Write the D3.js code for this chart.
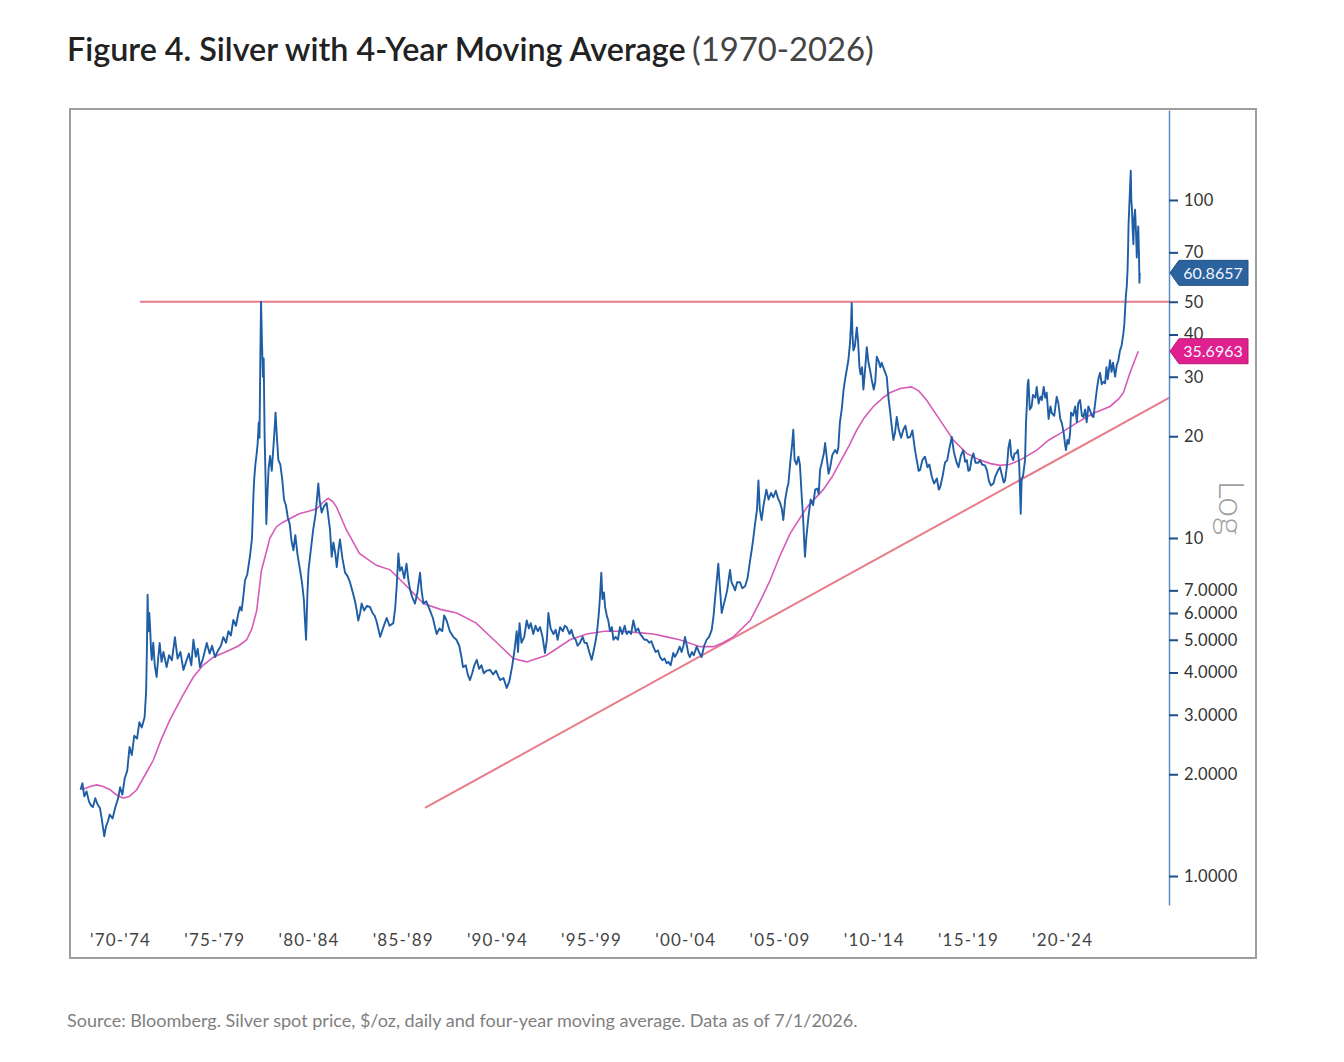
<!DOCTYPE html>
<html>
<head>
<meta charset="utf-8">
<script src="https://cdnjs.cloudflare.com/ajax/libs/d3/7.8.5/d3.min.js"></script>
<style>
  body { margin: 0; background: #fff; }
  text { font-family: Lato, 'Open Sans', sans-serif; }
</style>
</head>
<body>
<div class="svg-container"></div>
<script>
// Silver spot price, $/oz (decimal year, price)
var price1970s = [
	[1970.40, 1.80], [1970.50, 1.88], [1970.60, 1.72], [1970.72, 1.78], [1970.85, 1.66], [1970.95, 1.62],
	[1971.06, 1.60], [1971.18, 1.70], [1971.30, 1.63], [1971.43, 1.59], [1971.52, 1.48], [1971.60, 1.38],
	[1971.66, 1.31], [1971.75, 1.40], [1971.85, 1.45], [1971.95, 1.52], [1972.10, 1.48], [1972.25, 1.60],
	[1972.40, 1.70], [1972.50, 1.83], [1972.62, 1.74], [1972.75, 1.95], [1972.88, 2.05], [1973.00, 2.41],
	[1973.12, 2.28], [1973.25, 2.60], [1973.40, 2.55], [1973.52, 2.85], [1973.65, 2.75], [1973.80, 2.95],
	[1973.88, 3.50], [1973.92, 4.60], [1973.96, 6.80], [1974.00, 5.30], [1974.05, 6.00], [1974.09, 5.46],
	[1974.14, 4.70], [1974.18, 4.36], [1974.26, 4.90], [1974.34, 4.20], [1974.44, 3.88], [1974.52, 4.40],
	[1974.60, 4.89], [1974.70, 4.30], [1974.80, 4.60], [1974.97, 4.15], [1975.10, 4.50], [1975.25, 4.35],
	[1975.41, 5.09], [1975.55, 4.40], [1975.70, 4.60], [1975.86, 4.07], [1976.00, 4.30], [1976.15, 4.55],
	[1976.28, 4.20], [1976.39, 5.00], [1976.52, 4.45], [1976.62, 4.70], [1976.74, 4.15], [1976.90, 4.40],
	[1977.10, 4.89], [1977.25, 4.55], [1977.38, 4.80], [1977.54, 4.44], [1977.70, 4.65], [1977.85, 4.80],
	[1977.98, 5.09], [1978.12, 4.90], [1978.25, 5.30], [1978.38, 5.15], [1978.51, 5.72], [1978.65, 5.50],
	[1978.78, 6.00], [1978.86, 6.25], [1978.95, 6.10], [1979.05, 6.80], [1979.13, 7.50], [1979.25, 7.80],
	[1979.40, 8.90], [1979.50, 10.0], [1979.58, 13.5], [1979.62, 15.0], [1979.68, 16.5], [1979.75, 17.8],
	[1979.80, 19.0], [1979.86, 22.0], [1979.90, 19.8], [1979.94, 33.5], [1979.98, 50.0]
];

var price1980s = [
	[1980.03, 38.0], [1980.08, 30.0], [1980.12, 34.0], [1980.17, 20.0], [1980.22, 15.0], [1980.26, 11.0],
	[1980.32, 13.5], [1980.38, 16.0], [1980.46, 17.5], [1980.55, 15.8], [1980.62, 18.0], [1980.70, 21.0],
	[1980.75, 23.5], [1980.82, 20.0], [1980.90, 17.0], [1981.00, 16.5], [1981.10, 15.0], [1981.20, 13.0],
	[1981.30, 12.5], [1981.40, 11.5], [1981.50, 11.0], [1981.60, 9.8], [1981.70, 9.2], [1981.80, 10.2],
	[1981.92, 8.9], [1982.05, 8.05], [1982.15, 7.4], [1982.25, 6.6], [1982.32, 5.6], [1982.37, 5.0],
	[1982.44, 6.8], [1982.50, 8.05], [1982.62, 9.2], [1982.75, 10.6], [1982.88, 11.8], [1983.02, 14.5],
	[1983.10, 12.8], [1983.20, 11.9], [1983.32, 12.4], [1983.46, 12.7], [1983.55, 11.6], [1983.64, 10.6],
	[1983.73, 8.8], [1983.82, 9.7], [1983.92, 9.0], [1984.00, 8.2], [1984.10, 9.3], [1984.17, 9.9],
	[1984.30, 8.7], [1984.44, 7.9], [1984.58, 7.7], [1984.70, 7.4], [1984.85, 6.9], [1984.97, 6.5],
	[1985.06, 6.1], [1985.14, 5.7], [1985.24, 6.0], [1985.32, 6.4], [1985.45, 6.1], [1985.60, 6.3],
	[1985.76, 6.25], [1985.90, 6.0], [1986.00, 5.9], [1986.10, 5.7], [1986.20, 5.4], [1986.30, 5.1],
	[1986.45, 5.4], [1986.55, 5.6], [1986.65, 5.8], [1986.80, 5.5], [1987.00, 5.6], [1987.10, 6.2],
	[1987.18, 7.2], [1987.27, 9.0], [1987.35, 8.0], [1987.45, 8.2], [1987.58, 7.6], [1987.70, 8.4],
	[1987.80, 7.5], [1987.90, 7.0], [1988.00, 6.7], [1988.15, 6.4], [1988.28, 6.9], [1988.42, 7.9],
	[1988.50, 7.0], [1988.60, 6.4], [1988.75, 6.5], [1988.95, 6.1], [1989.10, 5.8], [1989.30, 5.2],
	[1989.45, 5.4], [1989.60, 5.3], [1989.70, 5.9], [1989.83, 5.7]
];

var price1990s = [
	[1990.00, 5.3], [1990.18, 5.1], [1990.35, 5.0], [1990.50, 4.8], [1990.60, 4.5], [1990.70, 4.15],
	[1990.85, 4.2], [1990.95, 3.95], [1991.07, 3.8], [1991.20, 4.0], [1991.30, 4.2], [1991.43, 4.36],
	[1991.55, 4.1], [1991.68, 4.2], [1991.80, 3.98], [1991.95, 4.05], [1992.14, 4.07], [1992.30, 3.95],
	[1992.45, 4.05], [1992.57, 3.9], [1992.67, 3.8], [1992.85, 3.85], [1993.02, 3.6], [1993.15, 3.75],
	[1993.30, 4.15], [1993.42, 4.6], [1993.55, 5.3], [1993.62, 4.6], [1993.70, 5.6], [1993.80, 4.9],
	[1993.95, 5.1], [1994.08, 5.7], [1994.20, 5.4], [1994.30, 5.6], [1994.43, 5.2], [1994.55, 5.5],
	[1994.67, 5.3], [1994.79, 5.45], [1994.92, 5.1], [1995.05, 4.57], [1995.15, 5.0], [1995.23, 6.0],
	[1995.35, 5.4], [1995.50, 5.2], [1995.62, 5.35], [1995.72, 5.0], [1995.85, 5.45], [1996.00, 5.3],
	[1996.10, 5.5], [1996.20, 5.45], [1996.35, 5.2], [1996.45, 5.35], [1996.56, 5.1], [1996.68, 5.0],
	[1996.78, 4.8], [1996.90, 4.89], [1997.05, 5.1], [1997.15, 4.9], [1997.27, 4.89], [1997.40, 4.6],
	[1997.53, 4.36], [1997.62, 4.6], [1997.72, 4.9], [1997.80, 5.2], [1997.90, 5.9], [1997.97, 6.7],
	[1998.04, 7.9], [1998.10, 6.6], [1998.18, 6.9], [1998.24, 6.25], [1998.33, 5.9], [1998.41, 5.7],
	[1998.50, 5.3], [1998.60, 5.45], [1998.68, 5.0], [1998.80, 5.1], [1998.92, 5.0], [1999.03, 5.45],
	[1999.15, 5.2], [1999.28, 5.5], [1999.39, 5.2], [1999.50, 5.3], [1999.62, 5.2], [1999.74, 5.7],
	[1999.87, 5.3]
];

var price2000s = [
	[2000.00, 5.4], [2000.10, 5.2], [2000.22, 5.1], [2000.33, 5.0], [2000.45, 5.0], [2000.58, 4.9],
	[2000.70, 4.95], [2000.80, 4.77], [2000.92, 4.6], [2001.05, 4.65], [2001.16, 4.44], [2001.28, 4.35],
	[2001.40, 4.4], [2001.50, 4.26], [2001.60, 4.3], [2001.72, 4.2], [2001.86, 4.57], [2001.95, 4.45],
	[2002.05, 4.55], [2002.20, 4.77], [2002.30, 4.6], [2002.40, 4.8], [2002.48, 5.1], [2002.58, 4.8],
	[2002.66, 4.55], [2002.74, 4.44], [2002.85, 4.6], [2002.95, 4.5], [2003.10, 4.77], [2003.22, 4.6],
	[2003.36, 4.44], [2003.50, 4.8], [2003.63, 5.0], [2003.76, 5.1], [2003.90, 5.35], [2004.00, 5.9],
	[2004.07, 6.55], [2004.15, 7.3], [2004.25, 8.4], [2004.33, 7.2], [2004.43, 6.0], [2004.52, 6.3],
	[2004.60, 6.55], [2004.72, 7.0], [2004.87, 8.05], [2004.95, 7.4], [2005.05, 7.2], [2005.14, 7.0],
	[2005.25, 7.4], [2005.40, 7.4], [2005.52, 7.1], [2005.67, 7.2], [2005.80, 7.6], [2005.94, 8.6],
	[2006.02, 9.2], [2006.10, 9.9], [2006.20, 11.0], [2006.30, 12.1], [2006.38, 14.8], [2006.45, 12.2],
	[2006.55, 11.3], [2006.65, 12.5], [2006.80, 13.9], [2006.92, 13.0], [2007.05, 13.6], [2007.17, 13.2],
	[2007.30, 13.8], [2007.42, 13.1], [2007.53, 12.7], [2007.62, 12.2], [2007.70, 11.3], [2007.80, 13.0],
	[2007.90, 14.0], [2007.97, 14.5], [2008.08, 17.0], [2008.17, 19.0], [2008.23, 20.9], [2008.30, 17.0],
	[2008.40, 16.5], [2008.50, 17.4], [2008.58, 16.5], [2008.68, 13.2], [2008.75, 11.5], [2008.80, 10.0],
	[2008.85, 8.8], [2008.92, 10.0], [2009.03, 11.5], [2009.15, 13.0], [2009.28, 12.5], [2009.39, 13.9],
	[2009.50, 14.0], [2009.58, 13.5], [2009.65, 15.9], [2009.75, 16.8], [2009.85, 17.8], [2009.92, 19.1]
];

var price2010s = [
	[2010.02, 17.0], [2010.10, 15.5], [2010.19, 16.2], [2010.30, 17.6], [2010.45, 18.2], [2010.55, 17.8],
	[2010.62, 18.5], [2010.70, 21.9], [2010.80, 24.0], [2010.90, 27.5], [2010.98, 29.5], [2011.06, 31.3],
	[2011.15, 33.5], [2011.24, 37.7], [2011.30, 44.0], [2011.33, 49.6], [2011.37, 40.0], [2011.42, 35.9],
	[2011.50, 37.0], [2011.60, 42.0], [2011.67, 38.0], [2011.74, 32.1], [2011.80, 30.5], [2011.88, 32.0],
	[2011.95, 27.5], [2012.05, 32.0], [2012.13, 36.7], [2012.22, 33.0], [2012.30, 31.5], [2012.39, 29.4],
	[2012.50, 27.5], [2012.58, 29.0], [2012.66, 34.4], [2012.75, 33.5], [2012.85, 32.0], [2012.92, 33.0],
	[2013.05, 31.5], [2013.19, 30.0], [2013.28, 26.0], [2013.36, 23.9], [2013.45, 21.5], [2013.54, 19.5],
	[2013.63, 20.5], [2013.72, 22.8], [2013.82, 21.0], [2013.95, 19.8], [2014.07, 20.9], [2014.18, 21.5],
	[2014.30, 19.8], [2014.43, 19.9], [2014.55, 20.8], [2014.69, 18.2], [2014.80, 16.8], [2014.88, 15.8],
	[2014.96, 15.9], [2015.08, 17.0], [2015.22, 17.4], [2015.35, 16.2], [2015.45, 16.5], [2015.58, 15.2],
	[2015.70, 14.5], [2015.85, 15.0], [2015.95, 13.9], [2016.02, 14.1], [2016.15, 15.2], [2016.28, 16.7],
	[2016.40, 17.0], [2016.52, 18.5], [2016.64, 19.9], [2016.75, 18.0], [2016.90, 16.7], [2017.00, 16.2],
	[2017.12, 17.5], [2017.25, 18.2], [2017.35, 16.8], [2017.44, 17.0], [2017.52, 15.8], [2017.60, 15.9],
	[2017.70, 17.2], [2017.79, 17.8], [2017.90, 16.7], [2018.05, 16.7], [2018.14, 17.0], [2018.25, 16.5],
	[2018.40, 16.4], [2018.50, 15.9], [2018.62, 14.7], [2018.72, 14.3], [2018.85, 14.5], [2018.95, 15.2],
	[2019.08, 15.8], [2019.20, 16.2], [2019.32, 15.2], [2019.40, 14.6], [2019.47, 14.8], [2019.58, 16.5],
	[2019.65, 18.5], [2019.73, 19.5], [2019.80, 17.5], [2019.90, 17.0], [2019.97, 17.8]
];

var price2020s = [
	[2020.05, 17.8], [2020.15, 18.2], [2020.22, 16.5], [2020.26, 14.0], [2020.30, 11.8], [2020.35, 15.0],
	[2020.42, 15.2], [2020.53, 17.0], [2020.58, 22.0], [2020.63, 25.0], [2020.67, 28.5], [2020.71, 29.4],
	[2020.78, 24.0], [2020.88, 24.5], [2020.95, 26.5], [2021.08, 26.0], [2021.15, 28.0], [2021.25, 25.0],
	[2021.35, 26.2], [2021.42, 25.6], [2021.52, 28.0], [2021.60, 26.0], [2021.68, 26.9], [2021.78, 22.5],
	[2021.88, 24.5], [2021.95, 23.4], [2022.08, 23.0], [2022.21, 26.2], [2022.30, 25.0], [2022.40, 22.5],
	[2022.48, 21.9], [2022.58, 20.5], [2022.65, 19.0], [2022.70, 18.2], [2022.78, 19.5], [2022.85, 19.0],
	[2022.92, 20.4], [2022.97, 23.5], [2023.08, 23.0], [2023.19, 24.5], [2023.28, 22.0], [2023.35, 25.0],
	[2023.45, 25.6], [2023.55, 23.0], [2023.63, 22.8], [2023.72, 24.0], [2023.80, 22.0], [2023.89, 24.5],
	[2023.98, 23.8], [2024.08, 23.0], [2024.16, 22.8], [2024.25, 25.0], [2024.34, 27.5], [2024.42, 29.5],
	[2024.51, 30.8], [2024.60, 28.5], [2024.70, 29.0], [2024.78, 28.7], [2024.85, 32.0], [2024.92, 29.5],
	[2025.04, 33.6], [2025.12, 31.0], [2025.20, 33.0], [2025.31, 30.0], [2025.40, 32.5], [2025.48, 33.5],
	[2025.57, 35.9], [2025.65, 37.0], [2025.75, 40.3], [2025.80, 43.0], [2025.84, 47.3], [2025.88, 52.0],
	[2025.93, 55.7], [2025.97, 62.0], [2026.00, 72.0], [2026.02, 83.5], [2026.06, 95.0], [2026.10, 108.0],
	[2026.14, 122.0], [2026.17, 100.0], [2026.20, 95.0], [2026.24, 82.0], [2026.28, 74.0], [2026.32, 88.0],
	[2026.37, 93.6], [2026.42, 80.0], [2026.46, 67.6], [2026.50, 76.0], [2026.54, 83.5], [2026.58, 68.0],
	[2026.60, 56.9], [2026.62, 60.8657]
];

// Four-year moving average (decimal year, price)
var movingAverage = [
	[1970.46, 1.80], [1970.90, 1.84], [1971.26, 1.86], [1971.60, 1.84], [1971.96, 1.80], [1972.30, 1.74],
	[1972.67, 1.70], [1973.00, 1.72], [1973.38, 1.80], [1973.80, 1.98], [1974.26, 2.20], [1974.70, 2.55],
	[1975.15, 2.90], [1975.80, 3.40], [1976.39, 3.88], [1976.90, 4.20], [1977.45, 4.44], [1977.90, 4.55],
	[1978.33, 4.66], [1978.80, 4.80], [1979.22, 5.00], [1979.50, 5.40], [1979.75, 6.10], [1980.00, 8.00],
	[1980.45, 10.0], [1980.80, 10.8], [1981.10, 11.1], [1981.50, 11.4], [1982.00, 11.8], [1982.50, 12.0],
	[1982.94, 12.2], [1983.30, 12.8], [1983.55, 13.1], [1983.80, 12.8], [1984.00, 12.3], [1984.50, 10.6],
	[1985.20, 9.0], [1986.10, 8.3], [1986.83, 8.05], [1987.50, 7.4], [1988.60, 6.4], [1989.50, 6.15],
	[1990.37, 6.0], [1991.40, 5.6], [1992.50, 4.9], [1993.37, 4.4], [1994.08, 4.3], [1995.14, 4.5],
	[1996.38, 5.0], [1997.27, 5.2], [1998.20, 5.3], [1999.03, 5.3], [2000.00, 5.25], [2000.80, 5.2],
	[2001.50, 5.1], [2002.20, 5.0], [2003.28, 4.77], [2004.00, 4.77], [2004.50, 4.9], [2005.05, 5.1],
	[2005.94, 5.7], [2006.47, 6.5], [2007.00, 7.5], [2007.50, 8.8], [2008.06, 10.3], [2008.94, 12.3],
	[2009.82, 13.9], [2010.30, 15.2], [2010.70, 16.7], [2011.20, 18.8], [2011.60, 20.9], [2012.00, 22.7],
	[2012.48, 24.5], [2013.00, 26.0], [2013.36, 26.9], [2013.90, 27.7], [2014.50, 28.0], [2014.90, 27.2],
	[2015.30, 25.6], [2016.00, 22.4], [2016.72, 19.5], [2017.43, 17.8], [2018.14, 17.0], [2018.70, 16.6],
	[2019.20, 16.4], [2019.70, 16.5], [2020.26, 17.0], [2021.15, 18.2], [2021.80, 19.5], [2022.40, 20.4],
	[2023.27, 21.9], [2024.16, 23.4], [2025.04, 24.5], [2025.50, 25.8], [2025.75, 26.9], [2026.10, 30.8],
	[2026.35, 33.5], [2026.54, 35.6963]
];

// Drawn reference lines (decimal year, price)
var resistanceLine = [[1973.55, 50], [2028.17, 50]];
var supportLine = [[1988.68, 1.59], [2028.17, 25.96]];

// Last values shown in the axis callouts
var lastPrice = 60.8657;
var lastAverage = 35.6963;

// Axis labels
var xTickYears = [1972.5, 1977.5, 1982.5, 1987.5, 1992.5, 1997.5, 2002.5, 2007.5, 2012.5, 2017.5, 2022.5];
var xTickLabels = ["'70-'74", "'75-'79", "'80-'84", "'85-'89", "'90-'94", "'95-'99",
	"'00-'04", "'05-'09", "'10-'14", "'15-'19", "'20-'24"];
var yTickValues = [100, 70, 50, 40, 30, 20, 10, 7, 6, 5, 4, 3, 2, 1];
var yTickLabels = ['100', '70', '50', '40', '30', '20', '10', '7.0000', '6.0000', '5.0000',
	'4.0000', '3.0000', '2.0000', '1.0000'];

var width = 1344;
var height = 1062;

// Shrink or grow a text's font so it spans the given width
function fitWidth(sel, target) {
	var size = +sel.attr('font-size');
	var w = sel.node().getComputedTextLength();
	sel.attr('font-size', size * target / w);
}

// Create SVG element
var svg = d3.select('.svg-container')
	.append('svg')
	.attr('width', width)
	.attr('height', height)
	.style('display', 'block');

svg.append('rect')
	.attr('width', width)
	.attr('height', height)
	.attr('fill', '#fff');

// Title
var titleMain = svg.append('text')
	.attr('x', 67)
	.attr('y', 61)
	.attr('fill', '#222')
	.attr('font-family', "'Open Sans', sans-serif")
	.attr('font-weight', 600)
	.attr('font-size', 28)
	.text('Figure 4. Silver with 4-Year Moving Average');
fitWidth(titleMain, 619);

var titleYears = svg.append('text')
	.attr('x', 692)
	.attr('y', 61)
	.attr('fill', '#444')
	.attr('font-family', "'Open Sans', sans-serif")
	.attr('font-weight', 400)
	.attr('font-size', 28)
	.text('(1970-2026)');
fitWidth(titleYears, 182);

// Frame
svg.append('rect')
	.attr('x', 70)
	.attr('y', 109)
	.attr('width', 1186)
	.attr('height', 849)
	.attr('fill', 'none')
	.attr('stroke', '#9d9d9d')
	.attr('stroke-width', 2);

// Set up scales
var xScale = d3.scaleLinear()
	.domain([1970, 2028.17])
	.range([73, 1169]);

var yScale = d3.scaleLog()
	.domain([0.8208, 184.6])
	.range([905, 110]);

var line = d3.line()
	.x(function(d) { return xScale(d[0]); })
	.y(function(d) { return yScale(d[1]); });

// Reference lines
[resistanceLine, supportLine].forEach(function(pts) {
	svg.append('path')
		.datum(pts)
		.attr('d', line)
		.attr('fill', 'none')
		.attr('stroke', '#e97c8b')
		.attr('stroke-width', 2);
});

// Moving average
svg.append('path')
	.datum(movingAverage)
	.attr('d', line)
	.attr('fill', 'none')
	.attr('stroke', '#d65cb8')
	.attr('stroke-width', 1.6);

// Price
var priceSeries = price1970s.concat(price1980s, price1990s, price2000s, price2010s, price2020s);
svg.append('path')
	.datum(priceSeries)
	.attr('d', line)
	.attr('fill', 'none')
	.attr('stroke', '#1f5ea5')
	.attr('stroke-width', 1.9)
	.attr('stroke-linejoin', 'round');

// Bottom labels
var xAxis = svg.append('g')
	.attr('transform', 'translate(0, 934)')
	.call(d3.axisBottom(xScale)
		.tickValues(xTickYears)
		.tickSize(0)
		.tickPadding(0)
		.tickFormat(function(d, i) { return xTickLabels[i]; }));
xAxis.select('.domain').remove();
xAxis.selectAll('text')
	.attr('font-family', 'Lato, sans-serif')
	.attr('font-size', 17)
	.attr('letter-spacing', 1.2)
	.attr('fill', '#444');

// Right log axis
var yAxis = svg.append('g')
	.attr('transform', 'translate(1169, 0)')
	.call(d3.axisRight(yScale)
		.tickValues(yTickValues)
		.tickSize(9)
		.tickSizeOuter(0)
		.tickPadding(6)
		.tickFormat(function(d, i) { return yTickLabels[i]; }));
yAxis.select('.domain')
	.attr('stroke', '#5a8cc4')
	.attr('stroke-width', 1.5);
yAxis.selectAll('.tick line')
	.attr('stroke', '#1d4f86')
	.attr('stroke-width', 2);
yAxis.selectAll('text')
	.attr('font-family', 'Lato, sans-serif')
	.attr('font-size', 16.5)
	.attr('letter-spacing', 0.3)
	.attr('fill', '#333');

// Callouts with last values (they sit over the 70 and 40 labels, as in the original)
[[lastPrice, '#2b639e'], [lastAverage, '#e0208f']].forEach(function(c) {
	var cy = yScale(c[0]);
	svg.append('path')
		.attr('d', 'M1170,' + cy + 'L1179,' + (cy - 12.5) + 'H1248V' + (cy + 12.5) + 'H1179Z')
		.attr('fill', c[1])
		.attr('stroke', d3.color(c[1]).darker(0.6))
		.attr('stroke-width', 1);
	svg.append('text')
		.attr('x', 1213)
		.attr('y', cy)
		.attr('dy', '0.36em')
		.attr('text-anchor', 'middle')
		.attr('font-size', 16)
		.attr('fill', '#f4f4ff')
		.text(d3.format('.4f')(c[0]));
});

// Log label
svg.append('text')
	.attr('transform', 'translate(1219, 508) rotate(90)')
	.attr('text-anchor', 'middle')
	.attr('font-size', 36)
	.attr('font-weight', 300)
	.attr('fill', '#a0a0a0')
	.text('Log');

// Source note
var source = svg.append('text')
	.attr('x', 67)
	.attr('y', 1027)
	.attr('font-family', "'Open Sans', sans-serif")
	.attr('font-size', 15)
	.attr('fill', '#808080')
	.text('Source: Bloomberg. Silver spot price, $/oz, daily and four-year moving average. Data as of 7/1/2026.');
fitWidth(source, 791);
</script>
</body>
</html>
